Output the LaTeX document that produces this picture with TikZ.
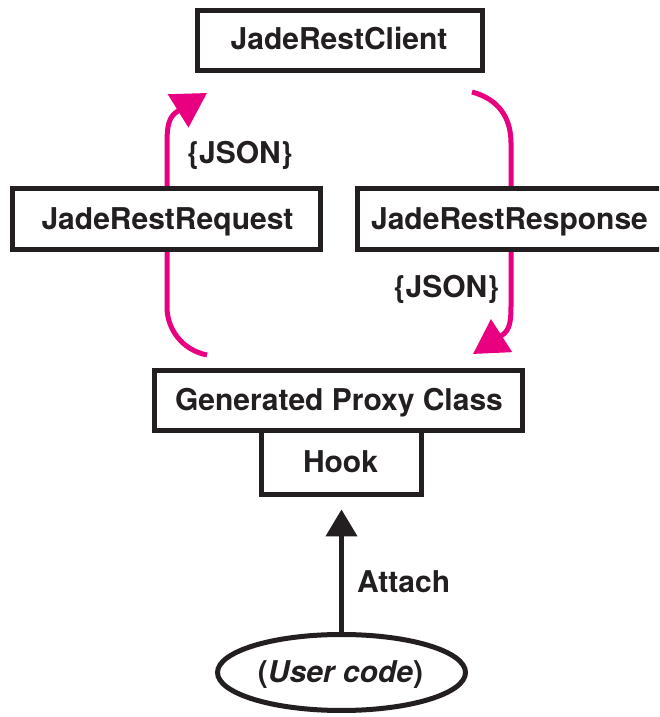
\documentclass[tikz,border=0pt]{standalone}
\usepackage{fontspec}
\setmainfont{TeX Gyre Heros}
\usetikzlibrary{arrows.meta,shapes.geometric,backgrounds}
\definecolor{ink}{RGB}{35,31,32}
\definecolor{pinkline}{RGB}{232,0,128}
\tikzset{
  lbl/.style={text=ink, font=\fontsize{30}{32}\selectfont\bfseries, inner sep=0pt, text height=20.8pt, text depth=0pt},
  boxnode/.style={draw=ink, line width=5pt, fill=white, inner sep=0pt},
  flow/.style={draw=pinkline, line width=5pt, -{Triangle[length=34pt,width=38pt]}},
  attacharrow/.style={draw=ink, line width=4.5pt, -{Triangle[length=27pt,width=31pt]}}
}
\begin{document}
\begin{tikzpicture}[x=1pt,y=1pt]
\clip (0,0) rectangle (659,717);
% boxes
\node[boxnode, minimum width=285pt, minimum height=60pt] (jrc) at (340,676.5) {};
\node[lbl] (jrct) at (339,677.5) {JadeRestClient};
\node[boxnode, minimum width=308pt, minimum height=61pt] (req) at (166.5,498) {};
\node[lbl] (reqt) at (167.5,498) {JadeRestRequest};
\node[boxnode, minimum width=306pt, minimum height=61pt] (resp) at (510.5,498) {};
\node[lbl] (respt) at (509.5,498) {JadeRestResponse};
\node[boxnode, minimum width=368pt, minimum height=60pt] (gpc) at (338.5,316.5) {};
\node[lbl] (gpct) at (339,317) {Generated Proxy Class};
\node[boxnode, minimum width=160pt, minimum height=64pt] (hook) at (341.5,254.5) {};
\node[lbl] (hookt) at (340.5,255) {Hook};
\node[draw=ink, line width=5pt, ellipse, fill=white, inner sep=0pt, minimum width=248pt, minimum height=76pt] (ell) at (341.5,44.5) {};
\node[lbl] (ellt) at (340.5,45) {(\textit{User code})};
% labels
\node[lbl, anchor=west] (attach) at (357,135) {Attach};
\node[lbl] (json1) at (240,564) {\{JSON\}};
\node[lbl] (json2) at (446.5,430) {\{JSON\}};
% connectors
\coordinate (l0) at (207,362);
\coordinate (l1) at (167,410);
\coordinate (l2) at (167,572);
\coordinate (lb) at (178,606);
\coordinate (lt) at (207,624);
\coordinate (r0) at (472,625);
\coordinate (r1) at (511,574);
\coordinate (r2) at (511,414);
\coordinate (rb) at (501,381);
\coordinate (rt) at (473,363);
\begin{scope}[on background layer]
\fill[white] (0,0) rectangle (659,717);
\draw[flow] (l0) .. controls (182,367) and (167,388) .. (l1) -- (l2) .. controls (167,590) and (168,600) .. (lb) -- (lt);
\draw[flow] (r0) .. controls (498,618) and (511,600) .. (r1) -- (r2) .. controls (511,398) and (511,387) .. (rb) -- (rt);
\end{scope}
\draw[attacharrow] (ell.north) -- ([yshift=-12.5pt]hook.south);
\end{tikzpicture}
\end{document}
